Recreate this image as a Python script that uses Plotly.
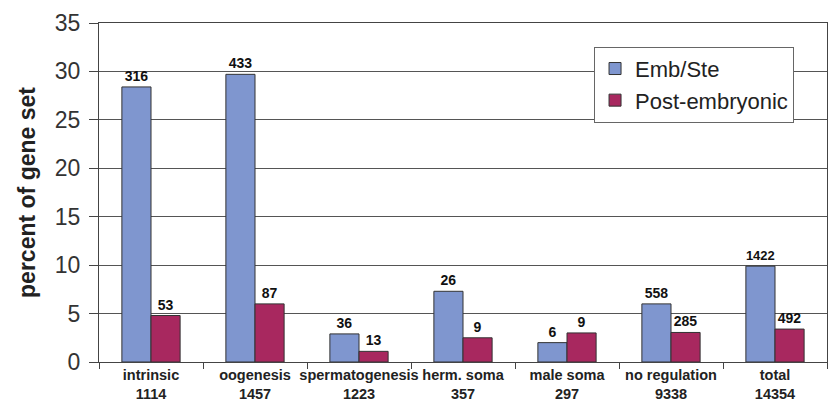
import plotly.graph_objects as go

categories = ["intrinsic", "oogenesis", "spermatogenesis", "herm. soma", "male soma", "no regulation", "total"]
gene_set_sizes = ["1114", "1457", "1223", "357", "297", "9338", "14354"]
emb_ste_pct = [28.4, 29.7, 2.9, 7.3, 2.0, 6.0, 9.9]
post_emb_pct = [4.8, 6.0, 1.1, 2.5, 3.0, 3.05, 3.4]
emb_ste_counts = ["316", "433", "36", "26", "6", "558", "1422"]
post_emb_counts = ["53", "87", "13", "9", "9", "285", "492"]
y_ticks = [0, 5, 10, 15, 20, 25, 30, 35]

labels = [f"{c}<br>{n}" for c, n in zip(categories, gene_set_sizes)]

FONT = "Liberation Sans, Arial, sans-serif"
fig = go.Figure()
fig.add_trace(go.Bar(
    x=labels, y=emb_ste_pct, name="Emb/Ste",
    marker=dict(color="#7f96cf", line=dict(color="#333333", width=1)),
    text=emb_ste_counts, textposition="outside", cliponaxis=False,
    textfont=dict(family=FONT, size=14, color="#111111", weight="bold"),
))
fig.add_trace(go.Bar(
    x=labels, y=post_emb_pct, name="Post-embryonic",
    marker=dict(color="#a8285f", line=dict(color="#333333", width=1)),
    text=post_emb_counts, textposition="outside", cliponaxis=False,
    textfont=dict(family=FONT, size=14, color="#111111", weight="bold"),
))

# page body adds an 8px margin, so the figure is sized to fit the 836x403 window
fig.update_layout(
    width=828, height=395,
    margin=dict(l=91, r=9, t=15, b=41),
    paper_bgcolor="white", plot_bgcolor="white",
    barmode="group", bargap=0.44, bargroupgap=0,
    font=dict(family=FONT, color="#222222"),
    showlegend=True,
    legend=dict(
        x=0.68, y=0.93, xanchor="left", yanchor="top",
        bgcolor="white", bordercolor="#666666", borderwidth=1,
        font=dict(family=FONT, size=22, color="#222222"),
        itemwidth=30, tracegroupgap=0,
    ),
    xaxis=dict(
        type="category", showline=True, linecolor="#444444", linewidth=1, mirror=True,
        ticks="outside", tickson="boundaries", ticklen=6, tickcolor="#444444",
        tickangle=0, automargin=False,
        tickfont=dict(family=FONT, size=14.5, color="#222222", weight="bold"),
        showgrid=False,
    ),
    yaxis=dict(
        range=[0, 35], tickvals=y_ticks, showline=True, linecolor="#444444", linewidth=1, mirror=True,
        ticks="outside", ticklen=9, tickcolor="#444444", automargin=False,
        ticklabelstandoff=4,
        tickfont=dict(family=FONT, size=23, color="#333333"),
        showgrid=True, gridcolor="#555555", gridwidth=1, zeroline=False,
        title=dict(text="percent of gene set", standoff=12,
                   font=dict(family=FONT, size=23, color="#222222", weight="bold")),
    ),
)

fig.write_html("out.html")
